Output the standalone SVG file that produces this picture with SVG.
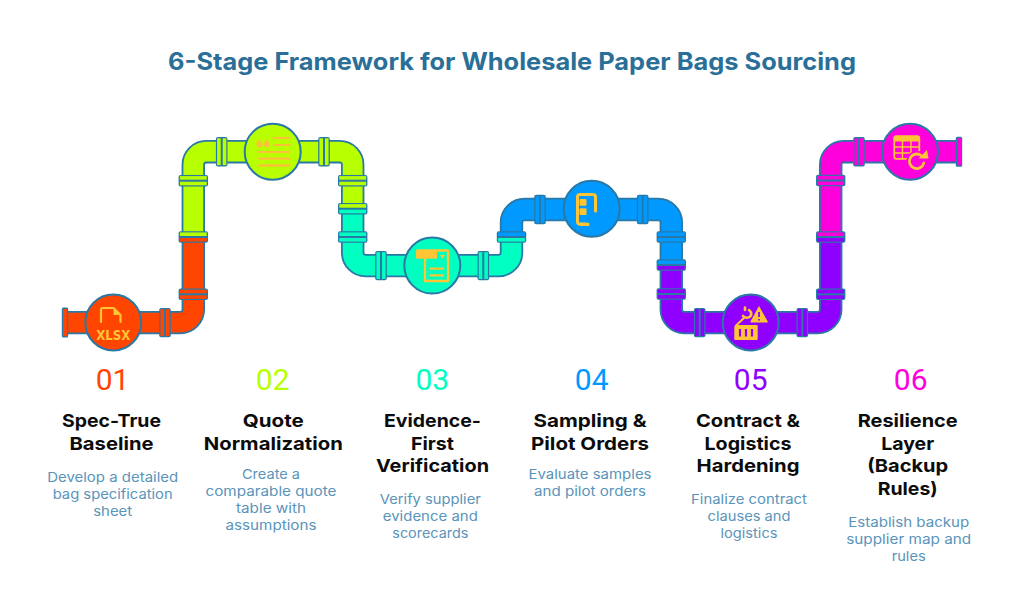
<svg xmlns="http://www.w3.org/2000/svg" width="1024" height="592" viewBox="0 0 1024 592">
<style>
.bg{fill:#fff}
.title{font:700 24px Inter,"Liberation Sans",sans-serif;fill:#2a6f97;text-anchor:middle}
.num{font:400 30px Roboto,"Liberation Sans",sans-serif;text-anchor:middle}
.head{font:700 18px Inter,"Liberation Sans",sans-serif;fill:#0c0c0c;text-anchor:middle}
.desc{font:400 13.5px Inter,"Liberation Sans",sans-serif;fill:#5a94ba;text-anchor:middle}
.steel{fill:none;stroke:#2a78a5;stroke-width:23.4}
.pipe{fill:none;stroke-width:19.8}
.hub{stroke:#2a78a5;stroke-width:2}
.ic{fill:none;stroke:#ffc535;stroke-width:2;stroke-linecap:round;stroke-linejoin:round}
.if{fill:#ffc535}
.a{fill:var(--a)}.b{fill:var(--b)}
.f1{--a:#ff4500;--b:#ff4500}.f2{--a:#b8ff00;--b:#b8ff00}.f3{--a:#00ffc0;--b:#00ffc0}.f4{--a:#0099ff;--b:#0099ff}.f5{--a:#9000ff;--b:#9000ff}.f6{--a:#ff00dd;--b:#ff00dd}
.f21{--a:#b8ff00;--b:#ff4500}.f23{--a:#b8ff00;--b:#00ffc0}.f43{--a:#0099ff;--b:#00ffc0}.f45{--a:#0099ff;--b:#9000ff}.f65{--a:#ff00dd;--b:#9000ff}
</style>
<defs>
<g id="fv"><rect x="-14.7" y="-5.8" width="29.4" height="11.6" rx="2" fill="#2a78a5"/><rect class="a" x="-13.4" y="-4.6" width="26.8" height="3.6"/><rect class="b" x="-13.4" y="1" width="26.8" height="3.6"/></g>
<g id="fh"><rect x="-5.8" y="-14.7" width="11.6" height="29.4" rx="2" fill="#2a78a5"/><rect class="a" x="-4.6" y="-13.4" width="3.6" height="26.8"/><rect class="b" x="1" y="-13.4" width="3.6" height="26.8"/></g>
<g id="fe"><rect x="-3.2" y="-15" width="6.4" height="30" rx="1.5" fill="#2a78a5"/><rect class="a" x="-2" y="-13.6" width="4" height="27.2"/></g>
</defs>
<rect class="bg" width="1024" height="592"/>
<text class="title" x="512" y="70" textLength="688" lengthAdjust="spacingAndGlyphs">6-Stage Framework for Wholesale Paper Bags Sourcing</text>
<g id="connectors">
<path class="steel" d="M65 322.6H180.3A13 13 0 0 0 193.3 309.6V164.7A13 13 0 0 1 206.3 151.7H339.7A13 13 0 0 1 352.7 164.7V252.6A13 13 0 0 0 365.7 265.6H498.5A13 13 0 0 0 511.5 252.6V222.5A13 13 0 0 1 524.5 209.5H658.3A13 13 0 0 1 671.3 222.5V309.6A13 13 0 0 0 684.3 322.6H817.7A13 13 0 0 0 830.7 309.6V164.7A13 13 0 0 1 843.7 151.7H959"/>
<path class="pipe" stroke="#ff4500" d="M65 322.6H180.3A13 13 0 0 0 193.3 309.6V237"/>
<path class="pipe" stroke="#b8ff00" d="M193.3 237V164.7A13 13 0 0 1 206.3 151.7H339.7A13 13 0 0 1 352.7 164.7V208.7"/>
<path class="pipe" stroke="#00ffc0" d="M352.7 208.7V252.6A13 13 0 0 0 365.7 265.6H498.5A13 13 0 0 0 511.5 252.6V237"/>
<path class="pipe" stroke="#0099ff" d="M511.5 237V222.5A13 13 0 0 1 524.5 209.5H658.3A13 13 0 0 1 671.3 222.5V265"/>
<path class="pipe" stroke="#9000ff" d="M671.3 265V309.6A13 13 0 0 0 684.3 322.6H817.7A13 13 0 0 0 830.7 309.6V237"/>
<path class="pipe" stroke="#ff00dd" d="M830.7 237V164.7A13 13 0 0 1 843.7 151.7H959"/>
<use href="#fe" x="65" y="322.6" class="f1"/>
<use href="#fh" x="165" y="322.6" class="f1"/>
<use href="#fv" x="193.3" y="294.3" class="f1"/>
<use href="#fv" x="193.3" y="237" class="f21"/>
<use href="#fv" x="193.3" y="180.7" class="f2"/>
<use href="#fh" x="221.7" y="151.7" class="f2"/>
<use href="#fh" x="324" y="151.7" class="f2"/>
<use href="#fv" x="352.7" y="180.7" class="f2"/>
<use href="#fv" x="352.7" y="208.7" class="f23"/>
<use href="#fv" x="352.7" y="237" class="f3"/>
<use href="#fh" x="381" y="265.6" class="f3"/>
<use href="#fh" x="483.3" y="265.6" class="f3"/>
<use href="#fv" x="511.5" y="237" class="f43"/>
<use href="#fh" x="540" y="209.5" class="f4"/>
<use href="#fh" x="642.7" y="209.5" class="f4"/>
<use href="#fv" x="671.3" y="237" class="f4"/>
<use href="#fv" x="671.3" y="265" class="f45"/>
<use href="#fv" x="671.3" y="294" class="f5"/>
<use href="#fh" x="699.7" y="322.6" class="f5"/>
<use href="#fh" x="802.3" y="322.6" class="f5"/>
<use href="#fv" x="830.7" y="294.3" class="f5"/>
<use href="#fv" x="830.7" y="237" class="f65"/>
<use href="#fv" x="830.7" y="180.5" class="f6"/>
<use href="#fh" x="859" y="151.7" class="f6"/>
<use href="#fe" x="959" y="151.7" class="f6"/>
</g>
<g id="node-1">
<circle class="hub" cx="113.3" cy="322.5" r="28" fill="#ff4500"/>
<path class="ic" style="stroke-width:2.2" d="M101 322V310Q101 308 103 308H113.5L120.5 315V322"/>
<path class="if" d="M113.5 307.5L121 315H113.5Z"/>
<text x="113.3" y="340" font-family="'DejaVu Sans',sans-serif" font-size="14.5" font-weight="700" fill="#ffc535" text-anchor="middle" textLength="34" lengthAdjust="spacingAndGlyphs">XLSX</text>
<text class="num" x="112.5" y="390" fill="#ff4500">01</text>
<text class="head" x="111.5" y="426.7" textLength="99" lengthAdjust="spacingAndGlyphs">Spec-True</text>
<text class="head" x="111.5" y="449.5" textLength="84" lengthAdjust="spacingAndGlyphs">Baseline</text>
<text class="desc" x="112.7" y="481.7" textLength="131" lengthAdjust="spacingAndGlyphs">Develop a detailed</text>
<text class="desc" x="112.7" y="498.7" textLength="120" lengthAdjust="spacingAndGlyphs">bag specification</text>
<text class="desc" x="112.7" y="515.7" textLength="39" lengthAdjust="spacingAndGlyphs">sheet</text>
</g>
<g id="node-2">
<circle class="hub" cx="272.7" cy="151.7" r="28" fill="#b8ff00"/>
<path d="M262.5 138Q256.5 140 256.500 144.500a3 3 0 1 0 3.200-3Q260 139.500 262.500 138ZM270 138Q264 140 264 144.500a3 3 0 1 0 3.200-3Q267.500 139.500 270 138Z" fill="#ffbe3c"/>
<path d="M274 138H289.500M274 145H289.500M259 152H289.500M259 158.700H289.500M259 165.300H289.500" stroke="#ffbe3c" stroke-width="2.200" stroke-linecap="round" fill="none"/>
<text class="num" x="272.700" y="390" fill="#b8ff00">02</text>
<text class="head" x="273.300" y="426.700" textLength="61" lengthAdjust="spacingAndGlyphs">Quote</text>
<text class="head" x="273.300" y="449.500" textLength="139" lengthAdjust="spacingAndGlyphs">Normalization</text>
<text class="desc" x="271" y="479" textLength="58" lengthAdjust="spacingAndGlyphs">Create a</text>
<text class="desc" x="271" y="496" textLength="131" lengthAdjust="spacingAndGlyphs">comparable quote</text>
<text class="desc" x="271" y="513" textLength="70" lengthAdjust="spacingAndGlyphs">table with</text>
<text class="desc" x="271" y="530" textLength="91" lengthAdjust="spacingAndGlyphs">assumptions</text>
</g>
<g id="node-3">
<circle class="hub" cx="432.300" cy="265.600" r="28" fill="#00ffc0"/>
<path class="ic" style="stroke-width:2.300" d="M436 250.500H448V281H425V259"/>
<rect class="if" x="416" y="249.300" width="21" height="9.500" rx="1.500"/>
<path class="if" d="M440 255H445L442.500 258.500Z"/>
<path class="ic" style="stroke-width:2.300" d="M430.500 268.700H443M430.500 275.300H443"/>
<text class="num" x="432.300" y="390" fill="#00ffc0">03</text>
<text class="head" x="432.500" y="426.700" textLength="97" lengthAdjust="spacingAndGlyphs">Evidence-</text>
<text class="head" x="432.500" y="449.500" textLength="43" lengthAdjust="spacingAndGlyphs">First</text>
<text class="head" x="432.500" y="472.200" textLength="113" lengthAdjust="spacingAndGlyphs">Verification</text>
<text class="desc" x="430.300" y="504" textLength="101" lengthAdjust="spacingAndGlyphs">Verify supplier</text>
<text class="desc" x="430.300" y="521" textLength="95" lengthAdjust="spacingAndGlyphs">evidence and</text>
<text class="desc" x="430.300" y="538" textLength="76" lengthAdjust="spacingAndGlyphs">scorecards</text>
</g>
<g id="node-4">
<circle class="hub" cx="591.700" cy="208.700" r="28" fill="#0099ff"/>
<path class="ic" style="stroke-width:3" d="M595.500 211V197Q595.500 194.500 593 194.500H580Q577.500 194.500 577.500 197V221.500Q577.500 224.300 580.500 224.300H588"/>
<path class="if" d="M580 222.500H586L589.500 226H580Z"/>
<rect class="if" x="579.500" y="199" width="7" height="6.700" rx="1"/>
<rect class="if" x="579.500" y="208.300" width="7" height="6.700" rx="1"/>
<text class="num" x="591.700" y="390" fill="#0099ff">04</text>
<text class="head" x="590" y="426.700" textLength="113" lengthAdjust="spacingAndGlyphs">Sampling &amp;</text>
<text class="head" x="590" y="449.500" textLength="118" lengthAdjust="spacingAndGlyphs">Pilot Orders</text>
<text class="desc" x="590" y="479" textLength="123" lengthAdjust="spacingAndGlyphs">Evaluate samples</text>
<text class="desc" x="590" y="496" textLength="112" lengthAdjust="spacingAndGlyphs">and pilot orders</text>
</g>
<g id="node-5">
<circle class="hub" cx="750.700" cy="322.500" r="28" fill="#9000ff"/>
<path class="ic" style="stroke-width:2.600" d="M745 307.500V310M749 310A5 5 0 0 1 751 315.500A5 5 0 0 1 743 316"/>
<path class="if" d="M759 306L767.700 321.500Q768 322.500 767 322.500H751Q750 322.500 750.500 321.500Z"/>
<path d="M759 312V317M759 319V320.500" stroke="#9000ff" stroke-width="1.800" fill="none"/>
<path class="ic" d="M743.500 318.500L736 325.500"/>
<path class="if" d="M736 325H756.500Q757.700 325 757.700 326V339Q757.700 340 756.500 340H735.500Q734.300 340 734.300 339V326.500Z"/>
<path d="M740 329V336.500M746 329V336.500M752 329V336.500" stroke="#9000ff" stroke-width="2.200" fill="none"/>
<text class="num" x="750.700" y="390" fill="#9000ff">05</text>
<text class="head" x="748" y="426.700" textLength="104" lengthAdjust="spacingAndGlyphs">Contract &amp;</text>
<text class="head" x="748" y="449.500" textLength="87" lengthAdjust="spacingAndGlyphs">Logistics</text>
<text class="head" x="748" y="472.200" textLength="103" lengthAdjust="spacingAndGlyphs">Hardening</text>
<text class="desc" x="749" y="504" textLength="116" lengthAdjust="spacingAndGlyphs">Finalize contract</text>
<text class="desc" x="749" y="521" textLength="83" lengthAdjust="spacingAndGlyphs">clauses and</text>
<text class="desc" x="749" y="538" textLength="57" lengthAdjust="spacingAndGlyphs">logistics</text>
</g>
<g id="node-6">
<circle class="hub" cx="910" cy="151.700" r="28" fill="#ff00dd"/>
<rect class="ic" x="894.300" y="136.300" width="25" height="22.500" rx="2" style="stroke-width:1.800"/>
<rect class="if" x="893.500" y="135.500" width="26.500" height="6" rx="2"/>
<path class="ic" style="stroke-width:1.500;stroke-linecap:butt" d="M894 147H920M894 153H914M902.500 141V159M911 141V159"/>
<circle cx="916.700" cy="161.300" r="10.500" fill="#ff00dd"/>
<path class="ic" style="stroke-width:2.800" d="M921.500 155.800A7.300 7.300 0 1 0 923.800 163"/>
<path class="if" d="M918.500 158.500H928.500L927 150Z"/>
<text class="num" x="910.700" y="390" fill="#ff00dd">06</text>
<text class="head" x="907.700" y="426.700" textLength="100" lengthAdjust="spacingAndGlyphs">Resilience</text>
<text class="head" x="907.700" y="449.500" textLength="53" lengthAdjust="spacingAndGlyphs">Layer</text>
<text class="head" x="907.700" y="472.200" textLength="81" lengthAdjust="spacingAndGlyphs">(Backup</text>
<text class="head" x="907.700" y="495" textLength="60" lengthAdjust="spacingAndGlyphs">Rules)</text>
<text class="desc" x="908.700" y="526.700" textLength="121" lengthAdjust="spacingAndGlyphs">Establish backup</text>
<text class="desc" x="908.700" y="544" textLength="125" lengthAdjust="spacingAndGlyphs">supplier map and</text>
<text class="desc" x="908.700" y="561" textLength="34" lengthAdjust="spacingAndGlyphs">rules</text>
</g>
</svg>
